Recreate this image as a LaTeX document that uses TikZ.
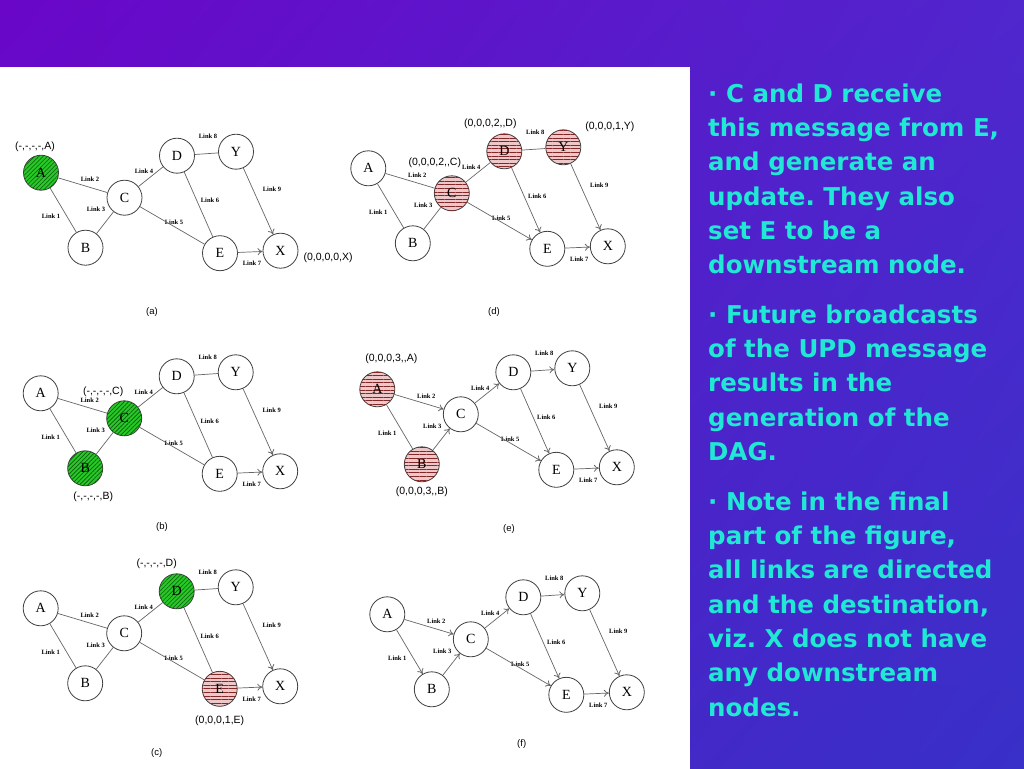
\documentclass[tikz,border=0pt]{standalone}
\usepackage{fontspec}
\setmainfont{Liberation Serif}
\newfontfamily\tuplefont{Liberation Sans}
\newfontfamily\notefont{DejaVu Sans}
\usetikzlibrary{positioning,arrows.meta,patterns.meta,shadings}
\frenchspacing

\definecolor{slideA}{RGB}{106,6,200}
\definecolor{slideB}{RGB}{80,38,205}
\definecolor{slideC}{RGB}{86,26,200}
\definecolor{slideD}{RGB}{56,48,200}
\definecolor{notecyan}{RGB}{32,232,212}
\definecolor{hatchgreen}{RGB}{40,200,40}
\definecolor{hatchdark}{RGB}{10,90,10}
\definecolor{updpink}{RGB}{238,200,200}
\definecolor{updred}{RGB}{130,40,40}

\tikzset{
  vertex/.style={circle, draw=black!75, line width=0.8pt, minimum size=35pt, inner sep=0pt, font=\fontsize{14}{15}\selectfont},
  idle/.style={fill=white},
  visited/.style={fill=hatchgreen, postaction={pattern={Lines[angle=45,distance=3pt,line width=0.6pt]}, pattern color=hatchdark}},
  updated/.style={fill=updpink, postaction={pattern={Lines[angle=0,distance=3.6pt,line width=0.9pt]}, pattern color=updred}},
  link/.style={draw=black!60, line width=0.7pt},
  dlink/.style={link, -{To[length=5pt,width=7pt,line width=0.8pt]}},
  linklabel/.style={font=\fontsize{6.5}{7}\selectfont\bfseries, inner sep=0pt},
  tuple/.style={font=\tuplefont\fontsize{10.5}{12}\selectfont, inner sep=0pt},
  caption/.style={font=\tuplefont\fontsize{9.5}{10}\selectfont},
  note/.style={font=\notefont\bfseries\fontsize{24.5}{34.3}\selectfont, text=notecyan, align=left, anchor=north west, inner sep=0pt}
}

% one graph: prefix, position of A, then the look of A, B, C, D, E, Y
\newcommand{\panel}[9]{%
  \begin{scope}[shift={(#2,#3)}]
    \node[vertex,#4] (#1A) at (0,0) {A};
    \node[vertex,#5] (#1B) at (44.5,75) {B};
    \node[vertex,#6] (#1C) at (83.5,25) {C};
    \node[vertex,#7] (#1D) at (136,-17) {D};
    \node[vertex,#8] (#1E) at (179,80.5) {E};
    \node[vertex,#9] (#1Y) at (195,-21) {Y};
    \node[vertex,idle] (#1X) at (239.5,78) {X};
    \foreach \k/\lx/\ly in {1/10/44, 2/49/7, 3/55/37, 4/103/-1, 5/133/50, 6/169/28, 7/211/91, 8/167/-36, 9/231/17}
      \node[linklabel] (#1L\k) at (\lx,\ly) {Link \k};
  \end{scope}}

\begin{document}
\begin{tikzpicture}[x=1pt, y=-1pt]
  \useasboundingbox (0,0) rectangle (1024,768);
  \shade[upper left=slideA, upper right=slideB, lower left=slideC, lower right=slideD] (0,0) rectangle (1024,768);
  \fill[white] (0,67) rectangle (690,770);

  \panel{a}{41}{172.7}{visited}{idle}{idle}{idle}{idle}{idle}
  \panel{b}{40.7}{393.3}{idle}{visited}{visited}{idle}{idle}{idle}
  \panel{c}{40.7}{608.3}{idle}{idle}{idle}{visited}{updated}{idle}
  \panel{d}{368.3}{168.3}{idle}{idle}{updated}{updated}{idle}{updated}
  \panel{e}{377.3}{389.3}{updated}{updated}{idle}{idle}{idle}{idle}
  \panel{f}{387.3}{614.3}{idle}{idle}{idle}{idle}{idle}{idle}

  % links
  \foreach \p in {a,b,c} {
    \foreach \s/\t in {A/B, A/C, B/C, C/D, C/E, D/E, D/Y} \draw[link] (\p\s) -- (\p\t);
    \foreach \s/\t in {E/X, Y/X} \draw[dlink] (\p\s) -- (\p\t);
  }
  \foreach \s/\t in {A/B, A/C, B/C, C/D, D/Y} \draw[link] (d\s) -- (d\t);
  \foreach \s/\t in {C/E, D/E, E/X, Y/X} \draw[dlink] (d\s) -- (d\t);
  \draw[link] (eA) -- (eB);
  \foreach \s/\t in {A/C, B/C, C/D, C/E, D/E, D/Y, E/X, Y/X} \draw[dlink] (e\s) -- (e\t);
  \foreach \s/\t in {A/B, A/C, B/C, C/D, C/E, D/E, D/Y, E/X, Y/X} \draw[dlink] (f\s) -- (f\t);

  % heights
  \node[tuple, above=3pt of aA, xshift=-6pt] (aAtag) {(-,-,-,-,A)};
  \node[tuple, right=5pt of aX, yshift=-7pt] (aXtag) {(0,0,0,0,X)};
  \node[tuple, above=4pt of bC, xshift=-21pt] (bCtag) {(-,-,-,-,C)};
  \node[tuple, below=5pt of bB, xshift=8pt] (bBtag) {(-,-,-,-,B)};
  \node[tuple, above=5pt of cD, xshift=-20pt] (cDtag) {(-,-,-,-,D)};
  \node[tuple, below=9pt of cE] (cEtag) {(0,0,0,1,E)};
  \node[tuple, above=5pt of dD, xshift=-14pt] (dDtag) {(0,0,0,2,,D)};
  \node[tuple, right=4pt of dY, yshift=21pt] (dYtag) {(0,0,0,1,Y)};
  \node[tuple, above=8pt of dC, xshift=-17pt] (dCtag) {(0,0,0,2,,C)};
  \node[tuple, above=8pt of eA, xshift=14pt] (eAtag) {(0,0,0,3,,A)};
  \node[tuple, below=4pt of eB] (eBtag) {(0,0,0,3,,B)};

  \foreach \p/\cx/\cy in {a/152/311.7, b/162/526.7, c/156.7/752.7, d/494/311.7, e/509/529, f/521.7/744}
    \node[caption] (\p-cap) at (\cx,\cy) {(\p)};

  % slide text
  \node[note] (note1) at (708,83.4) {· C and D receive\\this message from E,\\and generate an\\update. They also\\set E to be a\\downstream node.};
  \node[note] (note2) at (708,304.4) {· Future broadcasts\\of the UPD message\\results in the\\generation of the\\DAG.};
  \node[note] (note3) at (708,491.4) {· Note in the final\\part of the figure,\\all links are directed\\and the destination,\\viz. X does not have\\any downstream\\nodes.};
\end{tikzpicture}
\end{document}
